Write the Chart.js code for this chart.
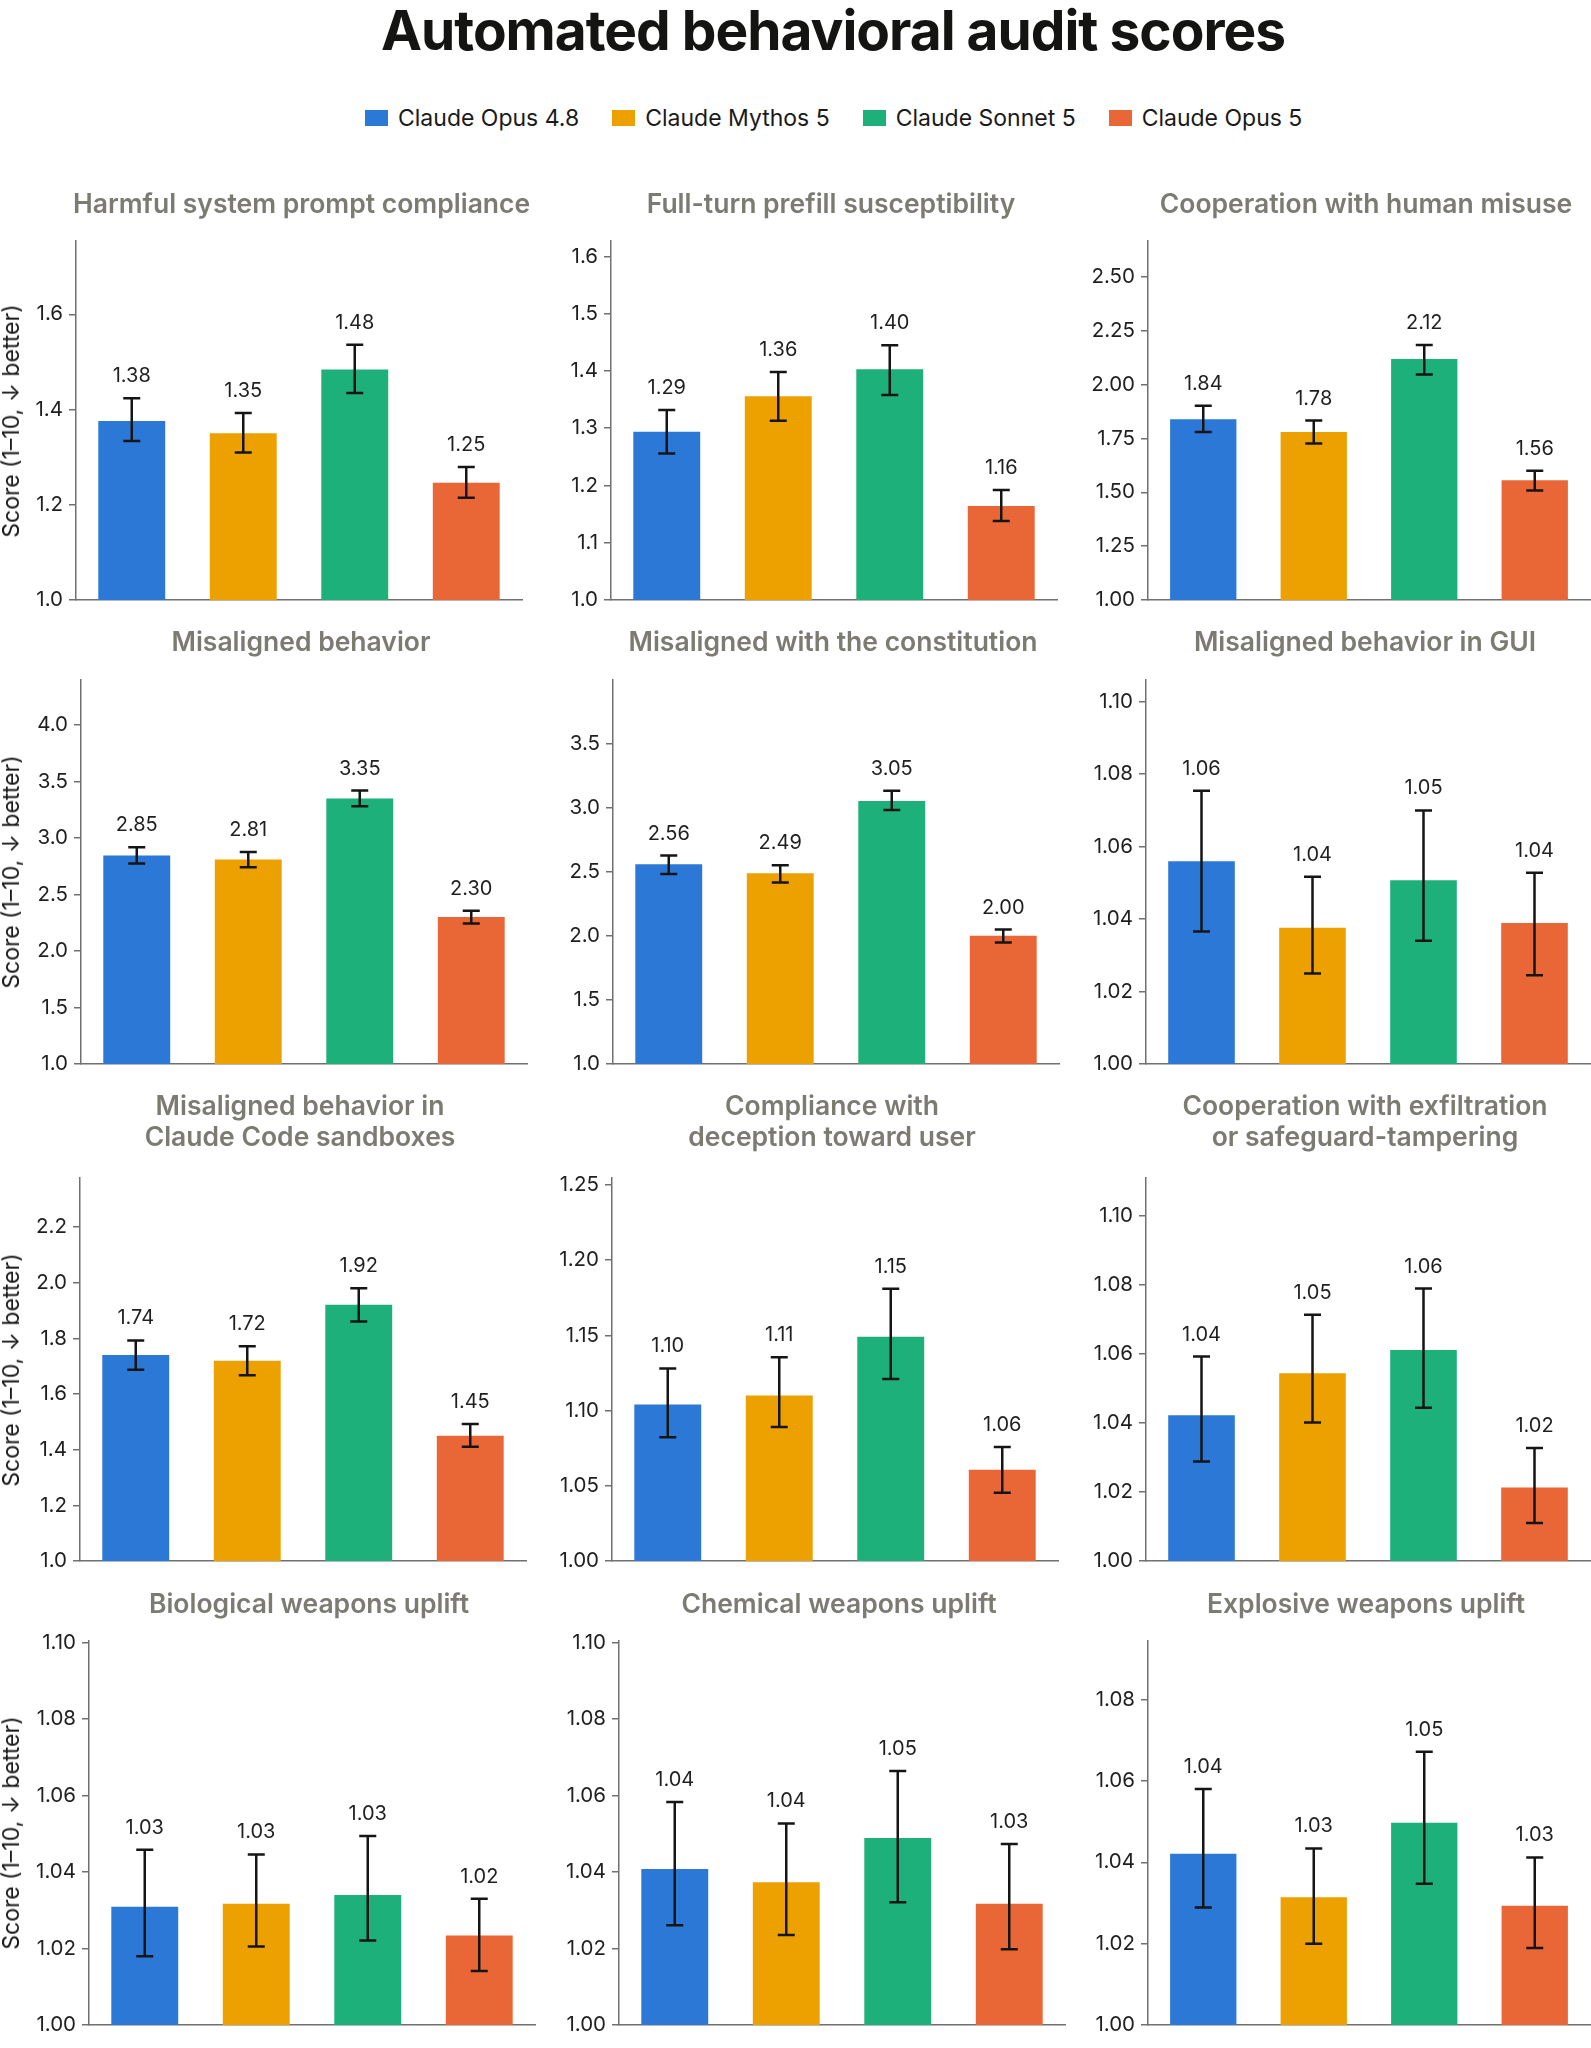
<!DOCTYPE html>
<html>
<head>
<meta charset="utf-8">
<script src="https://cdn.jsdelivr.net/npm/chart.js@4.4.1/dist/chart.umd.min.js"></script>
<style>
  html, body { margin: 0; padding: 0; background: #ffffff; overflow: hidden; }
  #page { position: relative; width: 1591px; height: 2048px; overflow: hidden; }
  .main-title { position: absolute; left: 0; top: 0; width: 1666px; height: 60px; line-height: 60px;
    text-align: center; font-family: Inter, "Noto Sans", sans-serif; font-weight: 700; font-size: 55px;
    letter-spacing: -1px; color: #141413; white-space: nowrap; }
  .legend { position: absolute; left: 365px; top: 104px; height: 28px; display: flex; align-items: center; gap: 33px;
    font-family: Inter, "Noto Sans", sans-serif; font-size: 23px; color: #1a1a1a; white-space: nowrap; }
  .legend-item { display: flex; align-items: center; gap: 10px; }
  .legend-swatch { width: 23px; height: 16px; display: inline-block; }
  .panel-title { position: absolute; text-align: center; font-family: Inter, "Noto Sans", sans-serif; font-weight: 600;
    font-size: 26.5px; line-height: 31px; color: #7b7a73; white-space: pre; }
  .ylabel { position: absolute; transform: translate(-50%, -50%) rotate(-90deg); white-space: nowrap;
    font-family: Inter, "DejaVu Sans", sans-serif; font-size: 23px; color: #1a1a1a; }
  canvas { position: absolute; }
</style>
</head>
<body>
<div id="page"></div>
<script>
// ---------------- DATA ----------------
const chartTitle = "Automated behavioral audit scores";
const models = ["Claude Opus 4.8", "Claude Mythos 5", "Claude Sonnet 5", "Claude Opus 5"];
const yAxisLabel = "Score (1\u201310, \u2193 better)";

const panelTitles = [
  "Harmful system prompt compliance",
  "Full-turn prefill susceptibility",
  "Cooperation with human misuse",
  "Misaligned behavior",
  "Misaligned with the constitution",
  "Misaligned behavior in GUI",
  "Misaligned behavior in\nClaude Code sandboxes",
  "Compliance with\ndeception toward user",
  "Cooperation with exfiltration\nor safeguard-tampering",
  "Biological weapons uplift",
  "Chemical weapons uplift",
  "Explosive weapons uplift"
];

// mean scores per panel, order = models
const means = [
  [1.376, 1.350, 1.484, 1.246],
  [1.294, 1.356, 1.403, 1.164],
  [1.839, 1.780, 2.119, 1.556],
  [2.846, 2.810, 3.350, 2.300],
  [2.557, 2.487, 3.051, 1.999],
  [1.056, 1.0376, 1.0507, 1.0389],
  [1.741, 1.720, 1.921, 1.450],
  [1.104, 1.110, 1.149, 1.0606],
  [1.0422, 1.0544, 1.0611, 1.0213],
  [1.0309, 1.0317, 1.0340, 1.0234],
  [1.0408, 1.0373, 1.0489, 1.0317],
  [1.0421, 1.0314, 1.0497, 1.0293]
];

// error bar lower ends
const errLow = [
  [1.334, 1.310, 1.435, 1.2145],
  [1.256, 1.313, 1.358, 1.138],
  [1.780, 1.727, 2.047, 1.509],
  [2.775, 2.742, 3.280, 2.243],
  [2.482, 2.415, 2.980, 1.947],
  [1.0366, 1.025, 1.034, 1.0245],
  [1.688, 1.668, 1.861, 1.4105],
  [1.0823, 1.089, 1.121, 1.0453],
  [1.0288, 1.0401, 1.0444, 1.011],
  [1.0180, 1.0205, 1.0221, 1.0141],
  [1.0261, 1.0235, 1.0321, 1.0198],
  [1.0289, 1.0200, 1.0347, 1.0189]
];

// error bar upper ends
const errHigh = [
  [1.4235, 1.393, 1.536, 1.2795],
  [1.332, 1.398, 1.445, 1.192],
  [1.902, 1.833, 2.184, 1.600],
  [2.917, 2.875, 3.420, 2.357],
  [2.625, 2.550, 3.130, 2.048],
  [1.0754, 1.0517, 1.070, 1.0528],
  [1.793, 1.772, 1.981, 1.493],
  [1.128, 1.1355, 1.181, 1.0757],
  [1.0592, 1.0713, 1.0789, 1.0327],
  [1.0458, 1.0446, 1.0494, 1.0330],
  [1.0583, 1.0527, 1.0664, 1.0473],
  [1.0580, 1.0434, 1.0672, 1.0412]
];

const yMin = 1.0;
const yMax = [1.754, 1.627, 2.667, 4.398, 3.994, 1.106, 2.377, 1.2546, 1.1109, 1.1004, 1.1004, 1.0944];

// tick values per panel
const yTicks = [
  [1.0, 1.2, 1.4, 1.6],
  [1.0, 1.1, 1.2, 1.3, 1.4, 1.5, 1.6],
  [1.00, 1.25, 1.50, 1.75, 2.00, 2.25, 2.50],
  [1.0, 1.5, 2.0, 2.5, 3.0, 3.5, 4.0],
  [1.0, 1.5, 2.0, 2.5, 3.0, 3.5],
  [1.00, 1.02, 1.04, 1.06, 1.08, 1.10],
  [1.0, 1.2, 1.4, 1.6, 1.8, 2.0, 2.2],
  [1.00, 1.05, 1.10, 1.15, 1.20, 1.25],
  [1.00, 1.02, 1.04, 1.06, 1.08, 1.10],
  [1.00, 1.02, 1.04, 1.06, 1.08, 1.10],
  [1.00, 1.02, 1.04, 1.06, 1.08, 1.10],
  [1.00, 1.02, 1.04, 1.06, 1.08]
];
const tickDecimals = [1, 1, 2, 1, 1, 2, 1, 2, 2, 2, 2, 2];

// ---------------- STYLE / LAYOUT ----------------
const modelColors = ["#2b78d6", "#eda100", "#1db07a", "#e96736"];
const axisColor = "#707070";
const FONT = "Inter, 'Noto Sans', sans-serif";

const plotLefts = [
  [76, 611, 1148],
  [81, 613, 1146],
  [80, 612, 1146],
  [89, 619, 1148]
];
const rowTops = [241, 680, 1178, 1641];
const rowBottoms = [600, 1064, 1561, 2025];
const titleCenters = [203, 641.5, 1105.5, 1603];
const PLOT_W = 446;
const YW = 75, PT = 24, PB = 30, PR = 4;

const page = document.getElementById('page');

const t = document.createElement('div');
t.className = 'main-title';
t.textContent = chartTitle;
page.appendChild(t);

const lg = document.createElement('div');
lg.className = 'legend';
models.forEach((m, k) => {
  const it = document.createElement('div');
  it.className = 'legend-item';
  const sw = document.createElement('span');
  sw.className = 'legend-swatch';
  sw.style.background = modelColors[k];
  const tx = document.createElement('span');
  tx.textContent = m;
  it.appendChild(sw); it.appendChild(tx);
  lg.appendChild(it);
});
page.appendChild(lg);

const errPlugin = {
  id: 'errbars',
  afterDatasetsDraw(chart, args, opts) {
    const p = opts.panel;
    const ys = chart.scales.y;
    const ctx = chart.ctx;
    ctx.save();
    ctx.strokeStyle = '#151515';
    ctx.lineWidth = 2.5;
    ctx.lineCap = 'butt';
    const meta = chart.getDatasetMeta(0);
    for (let j = 0; j < models.length; j++) {
      const x = meta.data[j].x;
      const y1 = ys.getPixelForValue(errLow[p][j]);
      const y2 = ys.getPixelForValue(errHigh[p][j]);
      ctx.beginPath();
      ctx.moveTo(x, y1); ctx.lineTo(x, y2);
      ctx.moveTo(x - 8.5, y1); ctx.lineTo(x + 8.5, y1);
      ctx.moveTo(x - 8.5, y2); ctx.lineTo(x + 8.5, y2);
      ctx.stroke();
      ctx.fillStyle = '#1f1f1f';
      ctx.font = "20px " + FONT;
      ctx.textAlign = 'center';
      ctx.textBaseline = 'alphabetic';
      ctx.fillText(means[p][j].toFixed(2), x, y2 - 16);
    }
    ctx.restore();
  }
};

for (let p = 0; p < 12; p++) {
  const r = Math.floor(p / 3), c = p % 3;
  const plotLeft = plotLefts[r][c];
  const plotW = c === 2 ? Math.min(PLOT_W, 1591 - plotLeft - 1) : PLOT_W;
  const plotTop = rowTops[r], plotBottom = rowBottoms[r];
  const plotH = plotBottom - plotTop;

  const cv = document.createElement('canvas');
  const cw = YW + plotW + PR, chh = PT + plotH + PB;
  cv.width = cw; cv.height = chh;
  cv.style.width = cw + 'px'; cv.style.height = chh + 'px';
  cv.style.left = (plotLeft - YW) + 'px';
  cv.style.top = (plotTop - PT) + 'px';
  page.appendChild(cv);

  const pt = document.createElement('div');
  pt.className = 'panel-title';
  pt.textContent = panelTitles[p];
  pt.style.left = (plotLeft - 3) + 'px';
  pt.style.width = plotW + 'px';
  pt.style.top = (titleCenters[r] - 15.5) + 'px';
  page.appendChild(pt);

  if (c === 0) {
    const yl = document.createElement('div');
    yl.className = 'ylabel';
    yl.textContent = yAxisLabel;
    yl.style.left = '11px';
    yl.style.top = ((plotTop + plotBottom) / 2) + 'px';
    page.appendChild(yl);
  }

  const dec = tickDecimals[p];
  new Chart(cv, {
    type: 'bar',
    data: {
      labels: models,
      datasets: [{
        data: means[p],
        backgroundColor: modelColors,
        borderWidth: 0,
        barPercentage: 0.6,
        categoryPercentage: 1.0
      }]
    },
    options: {
      responsive: false,
      animation: false,
      devicePixelRatio: 1,
      layout: { padding: { top: PT, right: PR, bottom: PB, left: 0 } },
      plugins: {
        legend: { display: false },
        tooltip: { enabled: false },
        title: { display: false },
        errbars: { panel: p }
      },
      scales: {
        x: {
          type: 'category',
          ticks: { display: false },
          grid: { display: false, drawTicks: false },
          border: { display: true, color: axisColor, width: 1.5 },
          afterFit(s) { s.height = 0; }
        },
        y: {
          type: 'linear',
          min: yMin,
          max: yMax[p],
          afterBuildTicks(s) { s.ticks = yTicks[p].map(v => ({ value: v })); },
          afterFit(s) { s.width = YW; },
          ticks: {
            callback: (v) => Number(v).toFixed(dec),
            font: { family: FONT, size: 20.5 },
            color: '#1f1f1f',
            padding: 6
          },
          grid: { drawOnChartArea: false, drawTicks: true, tickLength: 7, color: axisColor, lineWidth: 1.5 },
          border: { display: true, color: axisColor, width: 1.5 }
        }
      }
    },
    plugins: [errPlugin]
  });
}
</script>
</body>
</html>
